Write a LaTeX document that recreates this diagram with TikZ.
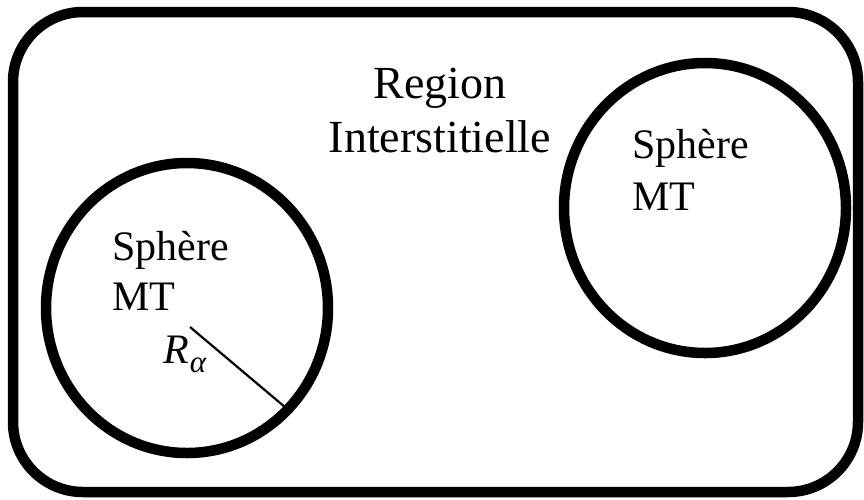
\documentclass[tikz,border=0pt]{standalone}
\usepackage{fontspec}
\setmainfont{Liberation Serif}
\usepackage{tikz}
\usetikzlibrary{shapes.geometric}
\tikzset{%
  every sphere/.style={
    ellipse,
    draw,
    line width=10.5pt,
    inner sep=0pt,
    minimum width=282pt,
    minimum height=290pt
  },
  region text/.style={
    anchor=base,
    inner sep=0pt,
    font=\fontsize{46}{54}\selectfont
  },
  sphere text/.style={
    anchor=base west,
    inner sep=0pt,
    font=\fontsize{42}{50}\selectfont
  },
}
\begin{document}
\begin{tikzpicture}[x=1pt, y=-1pt]
\useasboundingbox (0,0) rectangle (864,499);
\draw[line width=10.5pt, rounded corners=70pt] (13,12) rectangle (858,492);
% the two muffin-tin spheres
\node[every sphere] (sphereA) at (187,308) {};
\node[every sphere] (sphereB) at (705,208) {};
\node[region text] (region) at (440,98) {Region};
\node[region text] (inter) at (440,152) {Interstitielle};
\node[sphere text] (sphA) at (112,260) {Sphère};
\node[sphere text] (mtA) at (112,310) {MT};
\node[sphere text] (sphB) at (632,158) {Sphère};
\node[sphere text] (mtB) at (632,210) {MT};
% radius
\coordinate (rstart) at (190,327);
\draw[line width=2.2pt] (rstart) -- (sphereA.-45);
\node[sphere text] (ralpha) at (163,363)
  {\itshape R\kern1pt\raisebox{-9pt}{\fontsize{31}{31}\selectfont α}};
\end{tikzpicture}
\end{document}
